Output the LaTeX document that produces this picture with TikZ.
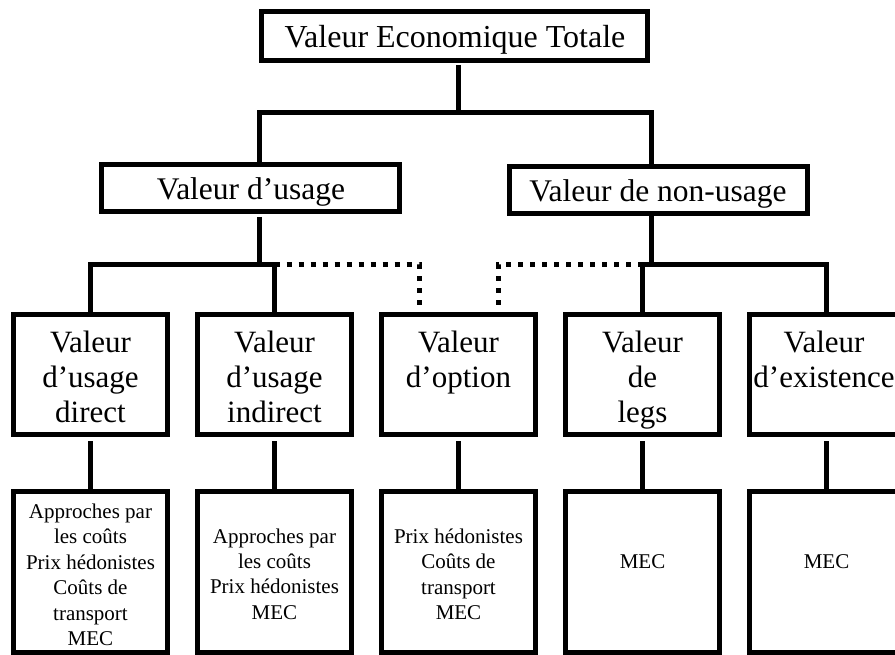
\documentclass[tikz,border=0pt]{standalone}
\usepackage{fontspec}
\setmainfont{Liberation Serif}
\tikzset{
  frame/.style={draw, line width=5pt, inner sep=0pt, outer sep=0pt},
  conn/.style={line width=5pt},
  dotconn/.style={line width=5pt, dash pattern=on 5pt off 7pt},
  ttop/.style={font=\fontsize{32}{38}\selectfont, inner sep=0pt, anchor=base},
  tmid/.style={font=\fontsize{31.5}{38}\selectfont, inner sep=0pt, anchor=base},
  tval/.style={font=\fontsize{31}{35}\selectfont, inner sep=0pt, anchor=north, align=center},
  tmeth/.style={font=\fontsize{21}{25.4}\selectfont, inner sep=0pt, anchor=north, align=center},
  tmec/.style={font=\fontsize{21}{25.4}\selectfont, inner sep=0pt, anchor=base},
  lvthree/.style={frame, minimum width=154pt, minimum height=120pt},
  lvfour/.style={frame, minimum width=154pt, minimum height=161pt},
  lvtwo/.style={frame, minimum width=298pt, minimum height=47pt}
}
\begin{document}
\begin{tikzpicture}[x=1pt,y=-1pt]
\useasboundingbox (0,0) rectangle (895,655);
\fill[white] (0,0) rectangle (895,655);
% top
\node[frame, minimum width=386pt, minimum height=49pt] (vet) at (454.5,36) {};
\node[ttop] (vett) at (455,48) {Valeur Economique Totale};
% level 2
\node[lvtwo] (vu) at (250.5,188) {};
\node[tmid] (vut) at (251,200) {Valeur d’usage};
\node[lvtwo] (vnu) at (658.5,190) {};
\node[tmid] (vnut) at (658,202) {Valeur de non-usage};
% level 3
\node[lvthree] (v1) at (90.5,374.5) {};
\node[lvthree] (v2) at (274.5,374.5) {};
\node[lvthree] (v3) at (458.5,374.5) {};
\node[lvthree] (v4) at (642.5,374.5) {};
\node[lvthree] (v5) at (826.5,374.5) {};
\node[tval] (v1t) at (90.5,331) {Valeur\\d’usage\\direct};
\node[tval] (v2t) at (274.5,331) {Valeur\\d’usage\\indirect};
\node[tval] (v3t) at (458.5,331) {Valeur\\d’option};
\node[tval] (v4t) at (642.5,331) {Valeur\\de\\legs};
\node[tval] (v5t) at (824,331) {Valeur\\d’existence};
% level 4
\node[lvfour] (m1) at (90.5,571.5) {};
\node[lvfour] (m2) at (274.5,571.5) {};
\node[lvfour] (m3) at (458.5,571.5) {};
\node[lvfour] (m4) at (642.5,571.5) {};
\node[lvfour] (m5) at (826.5,571.5) {};
\node[tmeth] (m1t) at (90.5,503.7) {Approches par\\les coûts\\Prix hédonistes\\Coûts de\\transport\\MEC};
\node[tmeth] (m2t) at (274.5,528.4) {Approches par\\les coûts\\Prix hédonistes\\MEC};
\node[tmeth] (m3t) at (458.5,528.4) {Prix hédonistes\\Coûts de\\transport\\MEC};
\node[tmec] (m4t) at (642.5,568) {MEC};
\node[tmec] (m5t) at (826.5,568) {MEC};
% connectors
\coordinate (j0) at (458,113);
\coordinate (jl) at (259,113);
\coordinate (jr) at (651,113);
\draw[conn, shorten <=4.5pt] (vet.south -| j0) -- (j0);
\draw[conn] (jl |- vu.north) -- (jl) -- (jr) -- (jr |- vnu.north);
\coordinate (ka) at (259,265);
\coordinate (kb) at (651,265);
\draw[conn, shorten <=5.5pt] (vu.south -| ka) -- (ka);
\draw[conn] (v1.north) -- (v1.north |- ka) -- (v2.north |- ka) -- (v2.north);
\draw[conn, shorten <=3pt] (vnu.south -| kb) -- (kb);
\draw[conn] (v4.north) -- (v4.north |- kb) -- (v5.north |- kb) -- (v5.north);
\coordinate (dl) at (419,305);
\coordinate (dr) at (498,305);
\draw[dotconn] (v2.north |- ka) -- (dl |- ka) -- (dl);
\draw[dotconn] (v4.north |- kb) -- (dr |- kb) -- (dr);
\draw[conn, shorten <=6.5pt] (v1.south) -- (m1.north);
\draw[conn, shorten <=6.5pt] (v2.south) -- (m2.north);
\draw[conn, shorten <=6.5pt] (v3.south) -- (m3.north);
\draw[conn, shorten <=6.5pt] (v4.south) -- (m4.north);
\draw[conn, shorten <=6.5pt] (v5.south) -- (m5.north);
\end{tikzpicture}
\end{document}
